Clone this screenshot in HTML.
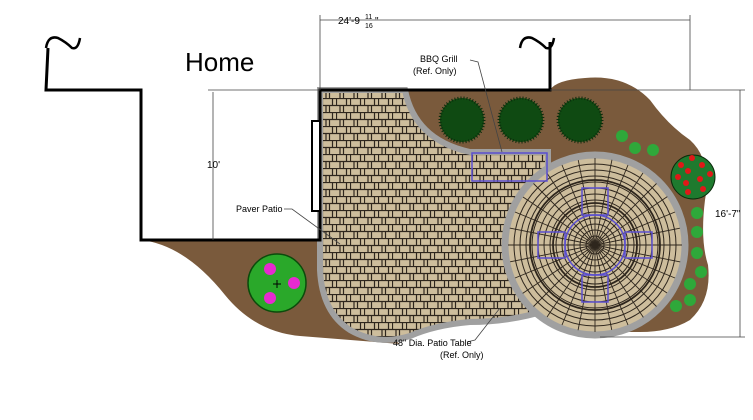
<!DOCTYPE html>
<html><head><style>html,body{margin:0;padding:0;background:#fff}svg{display:block}</style></head>
<body>
<svg width="753" height="420" viewBox="0 0 753 420" xmlns="http://www.w3.org/2000/svg" font-family="Liberation Sans, sans-serif">
<defs>
<pattern id="pv" width="14" height="14" patternUnits="userSpaceOnUse">
<rect width="14" height="14" fill="#cdbd9c"/>
<path d="M0 0.5H14M0 7.5H14M0.5 0V7M7.5 7V14M10.5 0V7M4 7V14" stroke="#2e261d" stroke-width="1.2" fill="none"/>
</pattern>
<clipPath id="cc"><circle cx="595" cy="245" r="87"/></clipPath>
<g id="rad" stroke="#2e261d" stroke-width="0.9">
<path d="M595 245L595 158M595 245L595 332M595 245L508 245M595 245L682 245M595 245L657 183M595 245L533 307M595 245L657 307M595 245L533 183M595 245L628 165M595 245L562 325M595 245L675 212M595 245L515 278M595 245L675 278M595 245L515 212M595 245L628 325M595 245L562 165"/>
</g>
</defs>
<!-- brown beds -->
<path d="M400 90 L550 90 Q556 80 585 78 Q625 74 650 100 Q668 125 690 140 Q712 160 705 200 Q700 240 708 265 Q712 300 690 320 Q670 332 640 332 L600 332 L548 300 L548 152 L470 152 Q415 140 405 92 Z" fill="#7a5a3c"/>
<path d="M141 240 Q185 245 225 295 Q255 332 300 336 L400 344 L340 300 L322 240 Z" fill="#7a5a3c"/>
<!-- patio -->
<path d="M320 90 L405 90 Q415 140 470 152 L548 152 L548 310 Q510 322 470 322 Q435 325 410 336 Q378 346 350 330 Q322 312 320 270 Z" fill="url(#pv)" stroke="#a0a0a0" stroke-width="6"/>
<!-- round patio -->
<circle cx="595" cy="245" r="90" fill="#cdbd9c" stroke="#a0a0a0" stroke-width="7"/>
<g clip-path="url(#cc)" stroke="#2e261d" fill="none" stroke-width="1">
<circle cx="595" cy="245" r="81"/><circle cx="595" cy="245" r="75"/><circle cx="595" cy="245" r="69"/><circle cx="595" cy="245" r="63"/><circle cx="595" cy="245" r="57"/><circle cx="595" cy="245" r="51"/><circle cx="595" cy="245" r="45"/><circle cx="595" cy="245" r="39"/><circle cx="595" cy="245" r="33"/><circle cx="595" cy="245" r="27"/><circle cx="595" cy="245" r="21"/><circle cx="595" cy="245" r="15"/><circle cx="595" cy="245" r="9"/>
<circle cx="595" cy="245" r="65" stroke-width="1.8"/><circle cx="595" cy="245" r="42" stroke-width="1.8"/>
</g>
<g clip-path="url(#cc)"><use href="#rad"/><use href="#rad" transform="rotate(11.25 595 245)"/></g>
<!-- blue -->
<g fill="none" stroke="#5b4fd0" stroke-width="1.5">
<rect x="472" y="153" width="75" height="28"/>
<circle cx="595" cy="245" r="30"/>
<rect x="582" y="188" width="26" height="27"/><rect x="582" y="275" width="26" height="27"/>
<rect x="538" y="232" width="27" height="26"/><rect x="625" y="232" width="27" height="26"/>
</g>
<!-- shrubs -->
<g fill="#0f4a12" stroke="#0b2b0b" stroke-width="3" stroke-dasharray="1 2">
<circle cx="462" cy="120" r="22"/><circle cx="521" cy="120" r="22"/><circle cx="580" cy="120" r="22"/>
</g>
<g fill="#2fa83a"><circle cx="622" cy="136" r="6"/><circle cx="635" cy="148" r="6"/><circle cx="653" cy="150" r="6"/>
<circle cx="697" cy="213" r="6"/><circle cx="697" cy="232" r="6"/><circle cx="697" cy="253" r="6"/><circle cx="701" cy="272" r="6"/><circle cx="690" cy="284" r="6"/><circle cx="690" cy="300" r="6"/><circle cx="676" cy="306" r="6"/></g>
<circle cx="693" cy="177" r="22" fill="#1e7a2e" stroke="#0b2b0b"/>
<g fill="#e01818"><circle cx="692" cy="158" r="3"/><circle cx="681" cy="165" r="3"/><circle cx="702" cy="165" r="3"/><circle cx="688" cy="171" r="3"/><circle cx="710" cy="174" r="3"/><circle cx="678" cy="177" r="3"/><circle cx="700" cy="179" r="3"/><circle cx="686" cy="183" r="3"/><circle cx="703" cy="189" r="3"/><circle cx="688" cy="192" r="3"/></g>
<circle cx="277" cy="283" r="29" fill="#2aa82a" stroke="#0b4b0b" stroke-width="1.5"/>
<g fill="#e62ad0"><circle cx="270" cy="269" r="6"/><circle cx="294" cy="283" r="6"/><circle cx="270" cy="298" r="6"/></g>
<path d="M277 280v8M273 284h8" stroke="#000"/>
<!-- house -->
<path d="M48 48 L46 90 L141 90 L141 240 L320 240 L320 90 L550 90 L550 42" fill="none" stroke="#000" stroke-width="3"/>
<path d="M46 48 Q48 35 58 38 Q66 42 72 48 Q78 50 80 38" fill="none" stroke="#000" stroke-width="2.5"/>
<path d="M520 48 Q522 35 532 38 Q540 42 546 48 Q552 50 554 38" fill="none" stroke="#000" stroke-width="2.5"/>
<rect x="312" y="121" width="8" height="90" fill="#fff" stroke="#000" stroke-width="2"/>
<text x="185" y="71" font-size="26">Home</text>
<!-- dims -->
<g stroke="#444" stroke-width="0.8" fill="none">
<path d="M320 15V90M320 20H690M690 15V90"/>
<path d="M208 90H320M213 92V240"/>
<path d="M550 90H745M600 337H745M740 90V337"/>
<path d="M470 60 L478 62 L502 152M284 209 L292 209 L340 244 M467 342 L475 340 L500 308"/>
</g>
<text x="338" y="24" font-size="10">24'-9</text><text x="365" y="19" font-size="7">11</text><text x="365" y="28" font-size="7">16</text><text x="375" y="24" font-size="10">"</text>
<text x="207" y="168" font-size="10">10'</text>
<text x="715" y="217" font-size="10">16'-7"</text>
<text x="420" y="62" font-size="9">BBQ Grill</text>
<text x="413" y="74" font-size="9">(Ref. Only)</text>
<text x="236" y="212" font-size="9">Paver Patio</text>
<text x="393" y="346" font-size="9">48" Dia. Patio Table</text>
<text x="440" y="358" font-size="9">(Ref. Only)</text>
</svg>
</body></html>
